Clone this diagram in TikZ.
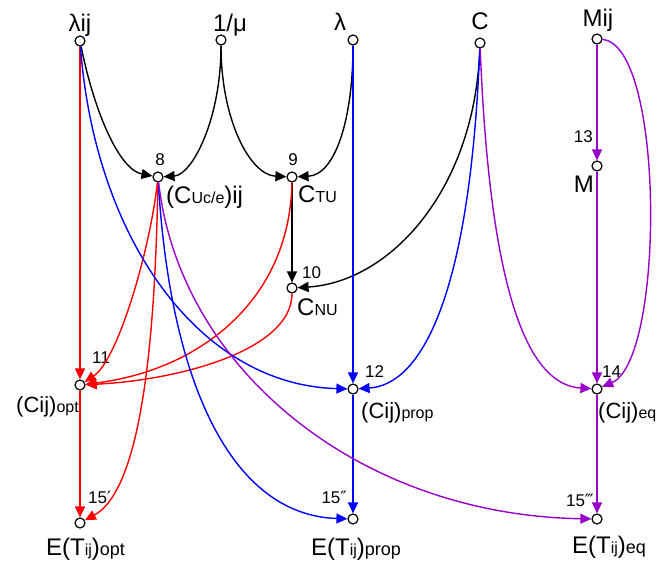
\documentclass[tikz,border=0pt]{standalone}
\usepackage{fontspec}
\setmainfont{Liberation Sans}
\newfontfamily\dv{DejaVu Sans}
\usetikzlibrary{arrows.meta}
\definecolor{pur}{RGB}{153,0,204}
\newcommand{\fsz}[1]{\fontsize{#1}{#1}\selectfont}
\newcommand{\sml}[1]{{\fsz{16}#1}}
\newcommand{\smb}[1]{{\fsz{18}#1}}
\begin{document}
\begin{tikzpicture}[x=1pt,y=-1pt,
  pt/.style={circle,draw=black,fill=white,line width=1.2pt,inner sep=0pt,minimum size=10pt},
  lbl/.style={inner sep=0pt,font=\fsz{24}},
  mid/.style={inner sep=0pt,font=\fsz{22}},
  big/.style={inner sep=0pt,font=\fsz{24}},
  num/.style={inner sep=0pt,font=\fsz{17}},
  ar/.style={line width=1.4pt,-{Triangle[length=11pt,width=10pt]}}
]
\useasboundingbox (0,0) rectangle (659,565);

% points
\node[pt] (lij) at (80,41) {};
\node[pt] (mu) at (221,40) {};
\node[pt] (lam) at (353,40) {};
\node[pt] (C) at (480,43) {};
\node[pt] (Mij) at (597,39) {};
\node[pt] (n8) at (158,177) {};
\node[pt] (n9) at (292,177) {};
\node[pt] (n10) at (292,288) {};
\node[pt] (M) at (597,166) {};
\node[pt] (n11) at (80,385) {};
\node[pt] (n12) at (353,389) {};
\node[pt] (n14) at (597,389) {};
\node[pt] (n15a) at (80,523) {};
\node[pt] (n15b) at (353,519) {};
\node[pt] (n15c) at (597,519) {};

% labels
\node[lbl,anchor=base] (tlij) at (80,31) {λij};
\node[lbl,anchor=base] (tmu) at (230,31) {1/μ};
\node[lbl,anchor=base] (tlam) at (340,30) {λ};
\node[lbl,anchor=base] (tC) at (480,29) {C};
\node[lbl,anchor=base] (tMij) at (598,26) {Mij};
\node[num,anchor=base] (t8) at (160,165) {8};
\node[lbl,anchor=base west] (t8b) at (166,203) {(C\sml{Uc/e})ij};
\node[num,anchor=base] (t9) at (293,165) {9};
\node[lbl,anchor=base west] (t9b) at (298,202) {C\sml{TU}};
\node[num,anchor=base west] (t10) at (302,278) {10};
\node[lbl,anchor=base west] (t10b) at (297,315) {C\sml{NU}};
\node[num,anchor=base east] (t13) at (593,142) {13};
\node[lbl,anchor=base east] (t13b) at (594,192) {M};
\node[num,anchor=base west] (t11) at (92,363) {11};
\node[mid,anchor=base east] (t11b) at (79,412) {(Cij)\sml{opt}};
\node[num,anchor=base west] (t12) at (365,377) {12};
\node[mid,anchor=base west] (t12b) at (361,418) {(Cij)\sml{prop}};
\node[num,anchor=base west] (t14) at (602,377) {14};
\node[mid,anchor=base west] (t14b) at (598,418) {(Cij)\sml{eq}};
\node[num,anchor=base west] (t15a) at (88,503) {15{\dv ′}};
\node[big,anchor=base west] (t15ab) at (46,555) {E(T\sml{ij})\smb{opt}};
\node[num,anchor=base east] (t15b) at (347,503) {15{\dv ″}};
\node[big,anchor=base west] (t15bb) at (311,555) {E(T\sml{ij})\smb{prop}};
\node[num,anchor=base east] (t15c) at (594,506) {15{\dv ‴}};
\node[big,anchor=base west] (t15cb) at (572,553) {E(T\sml{ij})\smb{eq}};

% black
\draw[ar,black] (lij) .. controls (95,115) and (120,170) .. (n8);
\draw[ar,black] (mu) .. controls (221,120) and (192,175) .. (n8);
\draw[ar,black] (mu) .. controls (221,120) and (250,175) .. (n9);
\draw[ar,black] (lam) .. controls (353,120) and (335,175) .. (n9);
\draw[ar,black] (n9) -- (n10);
\draw[ar,black] (C) .. controls (475,190) and (390,282) .. (n10);

% red
\draw[ar,red] (lij) -- (n11);
\draw[ar,red] (n8) .. controls (150,250) and (118,360) .. (n11);
\draw[ar,red] (n8) .. controls (155,350) and (140,490) .. (n15a);
\draw[ar,red] (n9) .. controls (290,300) and (200,370) .. (n11);
\draw[ar,red] (n10) .. controls (292,350) and (180,380) .. (n11);
\draw[ar,red] (n11) -- (n15a);

% blue
\draw[ar,blue] (lij) .. controls (95,240) and (200,385) .. (n12);
\draw[ar,blue] (lam) -- (n12);
\draw[ar,blue] (C) .. controls (470,300) and (420,385) .. (n12);
\draw[ar,blue] (n8) .. controls (170,380) and (230,515) .. (n15b);
\draw[ar,blue] (n12) -- (n15b);

% purple
\draw[ar,pur] (n8) .. controls (180,370) and (360,515) .. (n15c);
\draw[ar,pur] (C) .. controls (490,300) and (530,385) .. (n14);
\draw[ar,pur] (Mij) -- (M);
\draw[ar,pur] (M) -- (n14);
\draw[ar,pur] (Mij) .. controls (665,45) and (665,360) .. (n14);
\draw[ar,pur] (n14) -- (n15c);
\end{tikzpicture}
\end{document}
